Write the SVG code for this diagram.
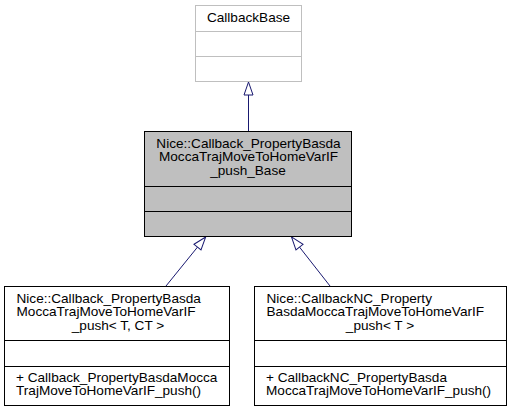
<svg xmlns="http://www.w3.org/2000/svg" width="511" height="412" viewBox="0 0 511 412">
<style>
text{font-family:"Liberation Sans",Arial,Helvetica,sans-serif;font-size:13.6px;fill:#000}
.c{text-anchor:middle}
.box{fill:#fff;stroke:#000;stroke-width:1}
.grey{fill:#fff;stroke:#bfbfbf;stroke-width:1}
.sel{fill:#bfbfbf;stroke:#000;stroke-width:1}
.edge{fill:none;stroke:#191970;stroke-width:1}
</style>
<defs>
<marker id="inh" markerUnits="userSpaceOnUse" markerWidth="16" markerHeight="12" refX="0.5" refY="5" orient="auto" overflow="visible">
<path d="M0.5,0.5 L13.5,5 L0.5,9.5 Z" fill="#fff" stroke="#191970" stroke-width="1"/>
</marker>
</defs>
<g id="connectors">
<line class="edge" x1="248.5" y1="131" x2="248.5" y2="95" marker-end="url(#inh)"/>
<line class="edge" x1="166" y1="286" x2="197.5" y2="247.1" marker-end="url(#inh)"/>
<line class="edge" x1="330" y1="286" x2="299.5" y2="247.1" marker-end="url(#inh)"/>
</g>
<g id="CallbackBase">
<rect class="grey" x="195.5" y="5.5" width="106" height="76"/>
<line class="grey" x1="195.5" y1="31.5" x2="301.5" y2="31.5"/>
<line class="grey" x1="195.5" y1="56.5" x2="301.5" y2="56.5"/>
<text class="c" x="248.5" y="22">CallbackBase</text>
</g>
<g id="Base">
<rect class="sel" x="144.5" y="131.5" width="207" height="105"/>
<line class="sel" x1="144.5" y1="186.5" x2="351.5" y2="186.5"/>
<line class="sel" x1="144.5" y1="211.5" x2="351.5" y2="211.5"/>
<text class="c" x="248.5" y="147.5">Nice::Callback_PropertyBasda</text>
<text class="c" x="248.5" y="161">MoccaTrajMoveToHomeVarIF</text>
<text class="c" x="248" y="174.5">_push_Base</text>
</g>
<g id="Callback">
<rect class="box" x="4.5" y="286.5" width="225" height="119"/>
<line class="box" x1="4.5" y1="340.5" x2="229.5" y2="340.5"/>
<line class="box" x1="4.5" y1="366.5" x2="229.5" y2="366.5"/>
<text x="16.5" y="302.5">Nice::Callback_PropertyBasda</text>
<text x="16.5" y="316">MoccaTrajMoveToHomeVarIF</text>
<text class="c" x="118" y="329.5">_push&lt; T, CT &gt;</text>
<text x="16" y="381.5">+ Callback_PropertyBasdaMocca</text>
<text x="16" y="395">TrajMoveToHomeVarIF_push()</text>
</g>
<g id="CallbackNC">
<rect class="box" x="254.5" y="286.5" width="252" height="119"/>
<line class="box" x1="254.5" y1="340.5" x2="506.5" y2="340.5"/>
<line class="box" x1="254.5" y1="366.5" x2="506.5" y2="366.5"/>
<text x="266.5" y="302.5">Nice::CallbackNC_Property</text>
<text x="266.5" y="316">BasdaMoccaTrajMoveToHomeVarIF</text>
<text class="c" x="380" y="329.5">_push&lt; T &gt;</text>
<text x="266" y="381.5">+ CallbackNC_PropertyBasda</text>
<text x="266" y="395">MoccaTrajMoveToHomeVarIF_push()</text>
</g>
</svg>
